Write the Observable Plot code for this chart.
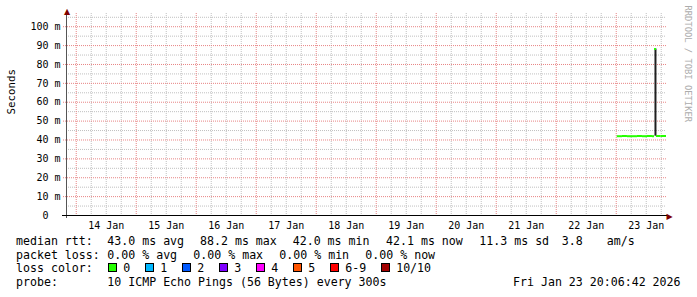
<!DOCTYPE html>
<html><head><meta charset="utf-8">
<script src="https://cdn.jsdelivr.net/npm/d3@7"></script>
<script src="https://cdn.jsdelivr.net/npm/@observablehq/plot@0.6"></script>
<style>
html,body{margin:0;padding:0;background:#fff;}
#wrap{position:relative;width:697px;height:297px;overflow:hidden;font-family:"DejaVu Sans Mono",monospace;background:#fff;}
#chart{position:absolute;left:0;top:0;}
.lg{position:absolute;font-size:11.6px;line-height:14px;white-space:pre;color:#000;}
.row{display:flex;gap:15px;align-items:baseline;}
.item{white-space:pre;}
.box{display:inline-block;width:9px;height:9px;box-sizing:border-box;border:1px solid #000;position:relative;top:0px;vertical-align:baseline;margin-right:6px;}
</style></head><body><div id="wrap"><div id="chart"></div></div>
<script>
// ---- data ----
const reportStart = "2026-01-13T20:06:42Z";
const reportEnd = "2026-01-23T20:06:42Z";
const yMax = 107;

const medianTimes = ["2026-01-23T00:25:00Z","2026-01-23T02:30:00Z","2026-01-23T04:30:00Z","2026-01-23T06:30:00Z","2026-01-23T08:30:00Z","2026-01-23T10:30:00Z","2026-01-23T12:30:00Z","2026-01-23T14:30:00Z","2026-01-23T15:20:00Z","2026-01-23T16:05:00Z","2026-01-23T18:00:00Z"];
const medianValues = [42.0, 42.1, 42.0, 42.0, 42.1, 42.0, 42.1, 42.0, 88.2, 42.1, 42.1];

const smokeTimes = ["2026-01-23T15:42:00Z"];
const smokeLow = [42.0];
const smokeHigh = [88.2];

const yTickValues = [0, 10, 20, 30, 40, 50, 60, 70, 80, 90, 100];
const yTickLabels = ["0\u00a0\u00a0", "10 m", "20 m", "30 m", "40 m", "50 m", "60 m", "70 m", "80 m", "90 m", "100 m"];
const xTickDates = ["2026-01-14T12:00:00Z","2026-01-15T12:00:00Z","2026-01-16T12:00:00Z","2026-01-17T12:00:00Z","2026-01-18T12:00:00Z","2026-01-19T12:00:00Z","2026-01-20T12:00:00Z","2026-01-21T12:00:00Z","2026-01-22T12:00:00Z","2026-01-23T12:00:00Z"];
const xTickLabels = ["14 Jan","15 Jan","16 Jan","17 Jan","18 Jan","19 Jan","20 Jan","21 Jan","22 Jan","23 Jan"];

const yLabel = "Seconds";
const watermark = "RRDTOOL / TOBI OETIKER";

const rttTitle = "median rtt:";
const rttItems = ["43.0 ms avg", "88.2 ms max", "42.0 ms min", "42.1 ms now", "11.3 ms sd", "3.8", "am/s"];
const lossTitle = "packet loss:";
const lossItems = ["0.00 % avg", "0.00 % max", "0.00 % min", "0.00 % now"];
const colorTitle = "loss color:";
const lossLabels = ["0", "1", "2", "3", "4", "5", "6-9", "10/10"];
const lossColors = ["#26ff00", "#00b8ff", "#0059ff", "#7e00ff", "#ff00ff", "#ff5500", "#ff0000", "#a10000"];
const probeTitle = "probe:";
const probeText = "10 ICMP Echo Pings (56 Bytes) every 300s";
const stampText = "Fri Jan 23 20:06:42 2026";

// ---- derived ----
const start = new Date(reportStart), end = new Date(reportEnd);
const minorX = d3.utcHour.every(6).range(start, end).filter(d => d.getUTCHours() !== 0);
const majorX = d3.utcDay.range(start, end);
const minorY = d3.range(5, yMax, 10);
const majorY = d3.range(10, yMax, 10);

const medianRows = medianTimes.map((t, i) => ({
  x1: new Date(t),
  x2: new Date(i + 1 < medianTimes.length ? medianTimes[i + 1] : reportEnd),
  y: medianValues[i]
}));
const smokeRows = smokeTimes.map((t, i) => ({t: new Date(t), lo: smokeLow[i], hi: smokeHigh[i]}));
const xTicks = xTickDates.map(d => new Date(d));
const xLabelMap = new Map(xTicks.map((d, i) => [+d, xTickLabels[i]]));

const gridMinor = {stroke: "#c0c0c0", strokeDasharray: "1,1"};
const gridMajor = {stroke: "#e88484", strokeDasharray: "1,1"};

const chart = Plot.plot({
  width: 697,
  height: 230,
  marginLeft: 66,
  marginRight: 31,
  marginTop: 13,
  marginBottom: 15,
  style: {fontFamily: "'DejaVu Sans Mono', monospace", fontSize: "10px", color: "#000", background: "transparent", overflow: "visible"},
  x: {type: "utc", domain: [start, end]},
  y: {domain: [0, yMax]},
  marks: [
    Plot.ruleY(minorY, gridMinor),
    Plot.ruleX(minorX, gridMinor),
    Plot.ruleY(majorY, {...gridMajor, insetLeft: -3}),
    Plot.ruleX(majorX, gridMajor),
    Plot.ruleX(smokeRows, {x: "t", y1: "lo", y2: "hi", stroke: "#202020", strokeWidth: 2}),
    Plot.ruleY(medianRows, {x1: "x1", x2: "x2", y: "y", stroke: "#26ff00", strokeWidth: 2}),
    Plot.ruleX([start], {stroke: "#555", insetTop: -2, insetBottom: -3}),
    Plot.ruleY([0], {stroke: "#000", insetLeft: -4, insetRight: -2}),
    Plot.text([{t: start, v: yMax, s: "\u25B2"}], {x: "t", y: "v", text: "s", fontFamily: "DejaVu Sans", fontSize: 8, fill: "#7f0000", lineAnchor: "middle", textAnchor: "middle", dx: 0.5, dy: -2.5}),
    Plot.text([{t: end, v: 0, s: "\u25B6"}], {x: "t", y: "v", text: "s", fontFamily: "DejaVu Sans", fontSize: 8, fill: "#7f0000", lineAnchor: "middle", textAnchor: "start", dx: 0, dy: 0.5}),
    Plot.axisY(yTickValues, {tickSize: 0, tickPadding: 6, label: null, fontSize: 10,
      tickFormat: d => yTickLabels[yTickValues.indexOf(d)]}),
    Plot.axisX(xTicks, {tickSize: 0, tickPadding: 6, label: null, fontSize: 10,
      tickFormat: d => xLabelMap.get(+d)}),
    Plot.text([yLabel], {frameAnchor: "left", rotate: -90, dx: -55, fontSize: 10.8, lineAnchor: "middle", fill: "#000"}),
    Plot.text([watermark], {frameAnchor: "top-right", rotate: 90, textAnchor: "start", lineAnchor: "middle", dx: 21, dy: -8, fontSize: 8.8, fill: "#acacac"})
  ]
});
document.getElementById("chart").appendChild(chart);

// ---- legend (HTML text below the SVG) ----
const wrap = document.getElementById("wrap");
function addText(txt, left, top) {
  const el = document.createElement("div");
  el.className = "lg";
  el.textContent = txt;
  el.style.left = left + "px";
  el.style.top = top + "px";
  wrap.appendChild(el);
  return el;
}
const lineTop = [234, 247.6, 261.4, 275.4];
const colLeft = 16, valLeft = 107.3;
addText(rttTitle, colLeft, lineTop[0]);
const rttX = [107.3, 200, 292.7, 386, 479.3, 561.7, 606.7];
rttItems.forEach((t, i) => addText(t, rttX[i], lineTop[0]));
addText(lossTitle, colLeft, lineTop[1]);
lossItems.forEach((t, i) => addText(t, valLeft + 86 * i, lineTop[1]));
addText(colorTitle, colLeft, lineTop[2]);
const row = document.createElement("div");
row.className = "lg row";
row.style.left = (valLeft + 1) + "px";
row.style.top = lineTop[2] + "px";
lossLabels.forEach((lab, i) => {
  const it = document.createElement("span");
  it.className = "item";
  const b = document.createElement("span");
  b.className = "box";
  b.style.background = lossColors[i];
  it.appendChild(b);
  it.appendChild(document.createTextNode(lab));
  row.appendChild(it);
});
wrap.appendChild(row);
addText(probeTitle, colLeft, lineTop[3]);
addText(probeText, valLeft, lineTop[3]);
addText(stampText, 513, lineTop[3]);
</script>
</body></html>
